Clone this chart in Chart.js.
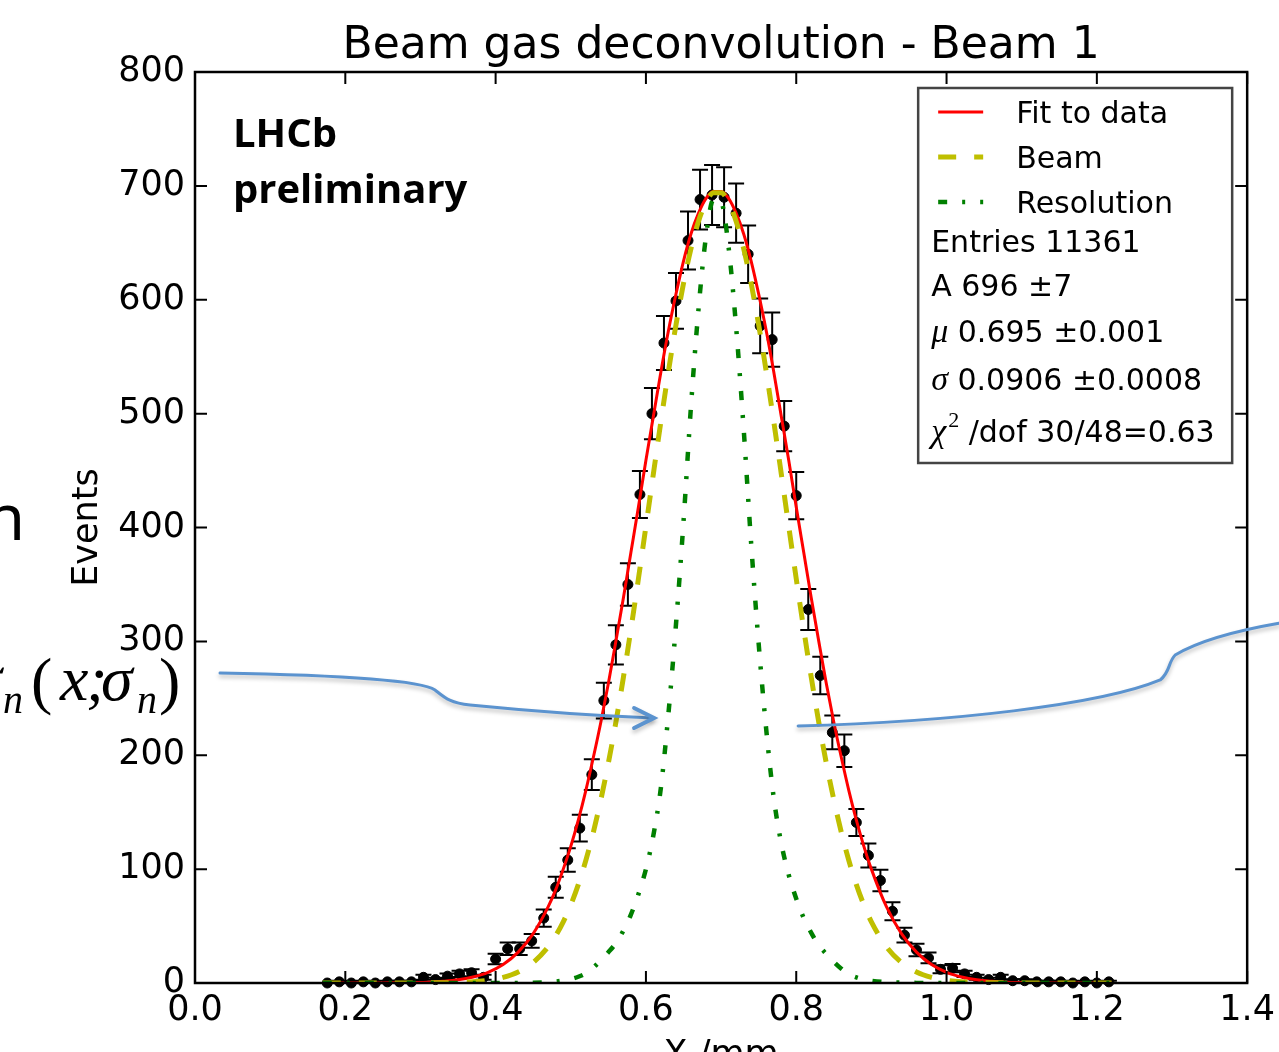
<!DOCTYPE html>
<html lang="en">
<head>
    <meta charset="UTF-8">
    <title>Beam gas deconvolution - Beam 1</title>
    <script src="https://cdn.jsdelivr.net/npm/chart.js"></script>
    <style>
        html, body {
            margin: 0;
            padding: 0;
            background: white;
            overflow: hidden;
        }
        #wrap {
            position: relative;
            width: 1282px;
            height: 1120px;
        }
    </style>
</head>
<body>
    <div id="wrap">
        <canvas id="beamChart" width="1282" height="1120"></canvas>
    </div>

    <script>
        // histogram bins (bin centre, events, error)
        const binX = [0.176, 0.192, 0.208, 0.224, 0.240, 0.256, 0.272, 0.288, 0.304, 0.320,
                      0.336, 0.352, 0.368, 0.384, 0.400, 0.416, 0.432, 0.448, 0.464, 0.480,
                      0.496, 0.512, 0.528, 0.544, 0.560, 0.576, 0.592, 0.608, 0.624, 0.640,
                      0.656, 0.672, 0.688, 0.704, 0.720, 0.736, 0.752, 0.768, 0.784, 0.800,
                      0.816, 0.832, 0.848, 0.864, 0.880, 0.896, 0.912, 0.928, 0.944, 0.960,
                      0.976, 0.992, 1.008, 1.024, 1.040, 1.056, 1.072, 1.088, 1.104, 1.120,
                      1.136, 1.152, 1.168, 1.184, 1.200, 1.216];
        const binY = [0, 1, 0, 1, 0, 1, 1, 1, 5, 3,
                      6, 8, 9, 5, 21, 30, 30, 37, 57, 84,
                      108, 136, 183, 248, 297, 350, 429, 500, 562, 599,
                      652, 688, 692, 690, 676, 640, 577, 565, 489, 428,
                      328, 270, 220, 204, 141, 112, 90, 63, 42, 29,
                      22, 12, 13, 8, 5, 3, 5, 2, 2, 1,
                      1, 1, 0, 1, 0, 1];
        const binErr = [0, 1, 0, 1, 0, 1, 1, 1, 2.2, 1.7,
                        2.4, 2.8, 3, 2.2, 4.6, 5.5, 5.5, 6.1, 7.5, 9.2,
                        10.4, 11.7, 13.5, 15.7, 17.2, 18.7, 20.7, 22.4, 23.7, 24.5,
                        25.5, 26.2, 26.3, 26.3, 26, 25.3, 24, 23.8, 22.1, 20.7,
                        18.1, 16.4, 14.8, 14.3, 11.9, 10.6, 9.5, 7.9, 6.5, 5.4,
                        4.7, 3.5, 3.6, 2.8, 2.2, 1.7, 2.2, 1.4, 1.4, 1,
                        1, 1, 0, 1, 0, 1];

        // curves
        const curveX = [0.17, 0.19, 0.21, 0.23, 0.25, 0.27, 0.29, 0.31, 0.33, 0.35, 0.37, 0.39, 0.41, 0.43, 0.45, 0.47,
                        0.48, 0.49, 0.50, 0.51, 0.52, 0.53, 0.54, 0.55, 0.56, 0.57, 0.58, 0.59, 0.60, 0.61, 0.62, 0.63, 0.64, 0.65, 0.66, 0.67, 0.68, 0.69,
                        0.70, 0.71, 0.72, 0.73, 0.74, 0.75, 0.76, 0.77, 0.78, 0.79, 0.80, 0.81, 0.82, 0.83, 0.84, 0.85, 0.86, 0.87, 0.88, 0.89, 0.90,
                        0.92, 0.94, 0.96, 0.98, 1.00, 1.02, 1.04, 1.06, 1.08, 1.10, 1.12, 1.14, 1.16, 1.18, 1.20, 1.22];
        const fitY = [0, 0, 0, 0, 0.1, 0.2, 0.4, 0.7, 1.5, 2.8, 5.3, 9.4, 16.2, 27.1, 43.3, 67,
                      82, 100, 120, 143, 169, 198, 229, 263, 300, 338, 378, 418, 459, 498, 537, 573, 605, 634, 658, 676, 689, 695,
                      695, 689, 676, 658, 634, 605, 573, 537, 498, 459, 418, 378, 338, 300, 263, 229, 198, 169, 143, 120, 100,
                      67, 43.3, 27.1, 16.2, 9.4, 5.3, 2.8, 1.5, 0.7, 0.4, 0.2, 0.1, 0, 0, 0, 0];
        const beamY = [0, 0, 0, 0, 0, 0, 0, 0.1, 0.2, 0.5, 1.1, 2.4, 4.9, 9.6, 18, 31.8,
                       41.6, 53.7, 68.6, 86.4, 107.6, 132.3, 160.9, 193.1, 229, 268.3, 310.5, 355, 401, 447.6, 493.4, 537.3, 578, 614.4, 645, 669, 685.5, 694,
                       694, 685.5, 669, 645, 614.4, 578, 537.3, 493.4, 447.6, 401, 355, 310.5, 268.3, 229, 193.1, 160.9, 132.3, 107.6, 86.4, 68.6, 53.7,
                       31.8, 18, 9.6, 4.9, 2.4, 1.1, 0.5, 0.2, 0.1, 0, 0, 0, 0, 0, 0, 0];
        const resY = [0, 0, 0, 0, 0, 0, 0, 0, 0, 0, 0, 0, 0, 0.1, 0.3, 0.8,
                      1.3, 2.2, 3.5, 5.5, 8.5, 13.5, 20, 27, 35, 46, 60, 78, 100, 130, 172, 237, 315, 405, 507, 592, 656, 688,
                      686, 646, 576, 487, 386, 298, 223, 163, 123, 95, 74, 57, 44, 33, 25.5, 18.5, 12.5, 7.8, 5, 3.2, 2,
                      0.7, 0.3, 0.1, 0, 0, 0, 0, 0, 0, 0, 0, 0, 0, 0, 0, 0];

        // fit box text
        const statLines = [
            [['Entries 11361', 'sans']],
            [['A 696 \u00b17', 'sans']],
            [['\u03bc', 'math'], [' 0.695 \u00b10.001', 'sans']],
            [['\u03c3', 'math'], [' 0.0906 \u00b10.0008', 'sans']],
            [['\u03c7', 'math'], ['2', 'sup'], [' /dof 30/48=0.63', 'sans']]
        ];

        // slide arrows, anchored in data units
        const arrowLeft = [[0.0333, 272.2], [0.1797, 270.5], [0.2994, 266.1], [0.3194, 257.3],
                           [0.3327, 250.3], [0.3394, 245.9], [0.366, 244.1],
                           [0.4591, 238], [0.539, 234.5], [0.6082, 232.7]];
        const arrowRight = [[0.8025, 225.7], [1.0048, 229.2], [1.2044, 244.1], [1.2843, 266.1],
                            [1.2976, 273.1], [1.2949, 281.9], [1.3042, 288],
                            [1.3375, 301.2], [1.3907, 310], [1.444, 316.1]];

        const SANS = '"DejaVu Sans"';
        const TITLE = 'Beam gas deconvolution - Beam 1';

        const decorations = {
            id: 'decorations',
            beforeDatasetsDraw(chart) {
                // error bars
                const {ctx, scales: {x, y}} = chart;
                ctx.save();
                ctx.strokeStyle = 'black';
                ctx.lineWidth = 2;
                binX.forEach((v, i) => {
                    const e = binErr[i];
                    if (!e) return;
                    const px = x.getPixelForValue(v);
                    const top = y.getPixelForValue(binY[i] + e);
                    const bot = y.getPixelForValue(Math.max(binY[i] - e, 0));
                    ctx.beginPath();
                    ctx.moveTo(px, top); ctx.lineTo(px, bot);
                    ctx.moveTo(px - 8, top); ctx.lineTo(px + 8, top);
                    ctx.moveTo(px - 8, bot); ctx.lineTo(px + 8, bot);
                    ctx.stroke();
                });
                ctx.restore();
            },
            afterDatasetsDraw(chart) {
                const {ctx, chartArea: a, scales: {x, y}} = chart;
                ctx.save();

                // title over the plot area
                ctx.fillStyle = 'black';
                ctx.textAlign = 'center';
                ctx.textBaseline = 'alphabetic';
                ctx.font = '44px ' + SANS;
                ctx.fillText(TITLE, (a.left + a.right) / 2, a.top - 14);

                // frame and inward ticks on all sides
                ctx.strokeStyle = 'black';
                ctx.lineWidth = 2.5;
                ctx.strokeRect(a.left, a.top, a.right - a.left, a.bottom - a.top);
                ctx.lineWidth = 2;
                ctx.beginPath();
                x.ticks.forEach(t => {
                    const px = x.getPixelForValue(t.value);
                    ctx.moveTo(px, a.bottom); ctx.lineTo(px, a.bottom - 12);
                    ctx.moveTo(px, a.top); ctx.lineTo(px, a.top + 12);
                });
                y.ticks.forEach(t => {
                    const py = y.getPixelForValue(t.value);
                    ctx.moveTo(a.left, py); ctx.lineTo(a.left + 12, py);
                    ctx.moveTo(a.right, py); ctx.lineTo(a.right - 12, py);
                });
                ctx.stroke();

                // LHCb label
                ctx.textAlign = 'left';
                ctx.font = 'bold 40px "Open Sans"';
                ctx.fillText('LHCb', a.left + 38, a.top + 75);
                ctx.fillText('preliminary', a.left + 38, a.top + 131);

                // legend box
                const bx = a.right - 329, by = a.top + 16, bw = 314, bh = 375;
                ctx.fillStyle = 'white';
                ctx.fillRect(bx, by, bw, bh);
                ctx.strokeStyle = '#444';
                ctx.lineWidth = 2.5;
                ctx.strokeRect(bx, by, bw, bh);

                const rows = [35, 80, 125];
                chart.data.datasets.slice(1).forEach((ds, i) => {
                    const base = by + rows[i];
                    ctx.save();
                    ctx.strokeStyle = ds.borderColor;
                    ctx.lineWidth = ds.borderWidth;
                    ctx.setLineDash(ds.borderDash || []);
                    ctx.beginPath();
                    ctx.moveTo(bx + 20, base - 11);
                    ctx.lineTo(bx + 65, base - 11);
                    ctx.stroke();
                    ctx.restore();
                    ctx.fillStyle = 'black';
                    ctx.font = '30px ' + SANS;
                    ctx.fillText(ds.label, bx + 98, base);
                });

                const statBase = [164, 208, 254, 302, 354];
                statLines.forEach((segs, i) => {
                    let cx = bx + 13;
                    const base = by + statBase[i];
                    segs.forEach(([txt, kind]) => {
                        let dy = 0;
                        if (kind === 'math') ctx.font = 'italic 34px "Liberation Serif"';
                        else if (kind === 'sup') { ctx.font = '22px "Liberation Serif"'; dy = -15; cx += 2; }
                        else ctx.font = '30px ' + SANS;
                        ctx.fillText(txt, cx, base + dy);
                        cx += ctx.measureText(txt).width;
                    });
                });

                // arrows from the slide
                ctx.strokeStyle = '#5b93cf';
                ctx.lineWidth = 3;
                ctx.lineCap = 'round';
                ctx.shadowColor = 'rgba(0,0,0,0.25)';
                ctx.shadowBlur = 4;
                ctx.shadowOffsetY = 3;
                const path = pts => {
                    const p = pts.map(([u, v]) => [x.getPixelForValue(u), y.getPixelForValue(v)]);
                    ctx.beginPath();
                    ctx.moveTo(p[0][0], p[0][1]);
                    for (let k = 1; k + 2 < p.length; k += 3) {
                        ctx.bezierCurveTo(p[k][0], p[k][1], p[k + 1][0], p[k + 1][1], p[k + 2][0], p[k + 2][1]);
                    }
                    ctx.stroke();
                    return p[p.length - 1];
                };
                const tip = path(arrowLeft);
                path(arrowRight);
                ctx.lineWidth = 4;
                ctx.beginPath();
                ctx.moveTo(tip[0] - 18, tip[1] - 10);
                ctx.lineTo(tip[0] + 2, tip[1]);
                ctx.lineTo(tip[0] - 18, tip[1] + 10);
                ctx.stroke();
                ctx.restore();

                // fragments of the slide text on the left
                ctx.save();
                ctx.fillStyle = 'black';
                ctx.textBaseline = 'alphabetic';
                ctx.font = '64px "Noto Sans"';
                ctx.textAlign = 'right';
                ctx.fillText('n', 25, 540);
                ctx.font = 'italic 64px "Liberation Serif"';
                ctx.fillText('\u03c3', 2, 700);
                ctx.textAlign = 'left';
                ctx.font = 'italic 40px "Liberation Serif"';
                ctx.fillText('n', 3, 713);
                ctx.font = '64px "Liberation Serif"';
                ctx.fillText('(', 31, 702);
                ctx.font = 'italic 64px "Liberation Serif"';
                ctx.fillText('x', 60, 700);
                ctx.fillText(';', 86, 700);
                ctx.fillText('\u03c3', 101, 700);
                ctx.font = 'italic 40px "Liberation Serif"';
                ctx.fillText('n', 137, 713);
                ctx.font = '64px "Liberation Serif"';
                ctx.fillText(')', 159, 702);
                ctx.restore();
            }
        };

        const toXY = (xs, ys) => xs.map((v, i) => ({x: v, y: ys[i]}));

        const ctx = document.getElementById('beamChart').getContext('2d');
        new Chart(ctx, {
            type: 'line',
            data: {
                datasets: [
                    {
                        label: 'Data',
                        data: toXY(binX, binY),
                        showLine: false,
                        pointRadius: 5,
                        pointHoverRadius: 5,
                        pointBackgroundColor: 'black',
                        pointBorderColor: 'black',
                        borderColor: 'black',
                        clip: false,
                        order: 4
                    },
                    {
                        label: 'Fit to data',
                        data: toXY(curveX, fitY),
                        borderColor: '#ff0000',
                        borderWidth: 3,
                        pointRadius: 0,
                        cubicInterpolationMode: 'monotone',
                        order: 3
                    },
                    {
                        label: 'Beam',
                        data: toXY(curveX, beamY),
                        borderColor: '#bfbf00',
                        borderWidth: 5,
                        borderDash: [18, 18],
                        borderCapStyle: 'butt',
                        pointRadius: 0,
                        cubicInterpolationMode: 'monotone',
                        order: 2
                    },
                    {
                        label: 'Resolution',
                        data: toXY(curveX, resY),
                        borderColor: '#008000',
                        borderWidth: 4.5,
                        borderDash: [9, 15, 3, 15],
                        borderCapStyle: 'butt',
                        pointRadius: 0,
                        cubicInterpolationMode: 'monotone',
                        order: 1
                    }
                ]
            },
            options: {
                responsive: false,
                animation: false,
                events: [],
                layout: {
                    padding: {left: 0, right: 30, top: 72, bottom: 0}
                },
                scales: {
                    x: {
                        type: 'linear',
                        min: 0,
                        max: 1.4,
                        afterFit: s => { s.height = 137; },
                        grid: {display: false, drawTicks: false},
                        border: {display: false},
                        ticks: {
                            stepSize: 0.2,
                            autoSkip: false,
                            maxRotation: 0,
                            padding: 7,
                            color: 'black',
                            font: {family: 'DejaVu Sans', size: 35},
                            callback: v => v.toFixed(1)
                        },
                        title: {
                            display: true,
                            text: 'X /mm',
                            color: 'black',
                            font: {family: 'DejaVu Sans', size: 35},
                            padding: {top: 0, bottom: 43}
                        }
                    },
                    y: {
                        min: 0,
                        max: 800,
                        afterFit: s => { s.width = 195; },
                        grid: {display: false, drawTicks: false},
                        border: {display: false},
                        ticks: {
                            stepSize: 100,
                            padding: 10,
                            color: 'black',
                            font: {family: 'DejaVu Sans', size: 35}
                        },
                        title: {
                            display: true,
                            text: 'Events',
                            color: 'black',
                            font: {family: 'DejaVu Sans', size: 35},
                            padding: {top: 67, bottom: 0}
                        }
                    }
                },
                plugins: {
                    legend: {display: false},
                    tooltip: {enabled: false},
                    title: {display: false}
                }
            },
            plugins: [decorations]
        });
    </script>
</body>
</html>
